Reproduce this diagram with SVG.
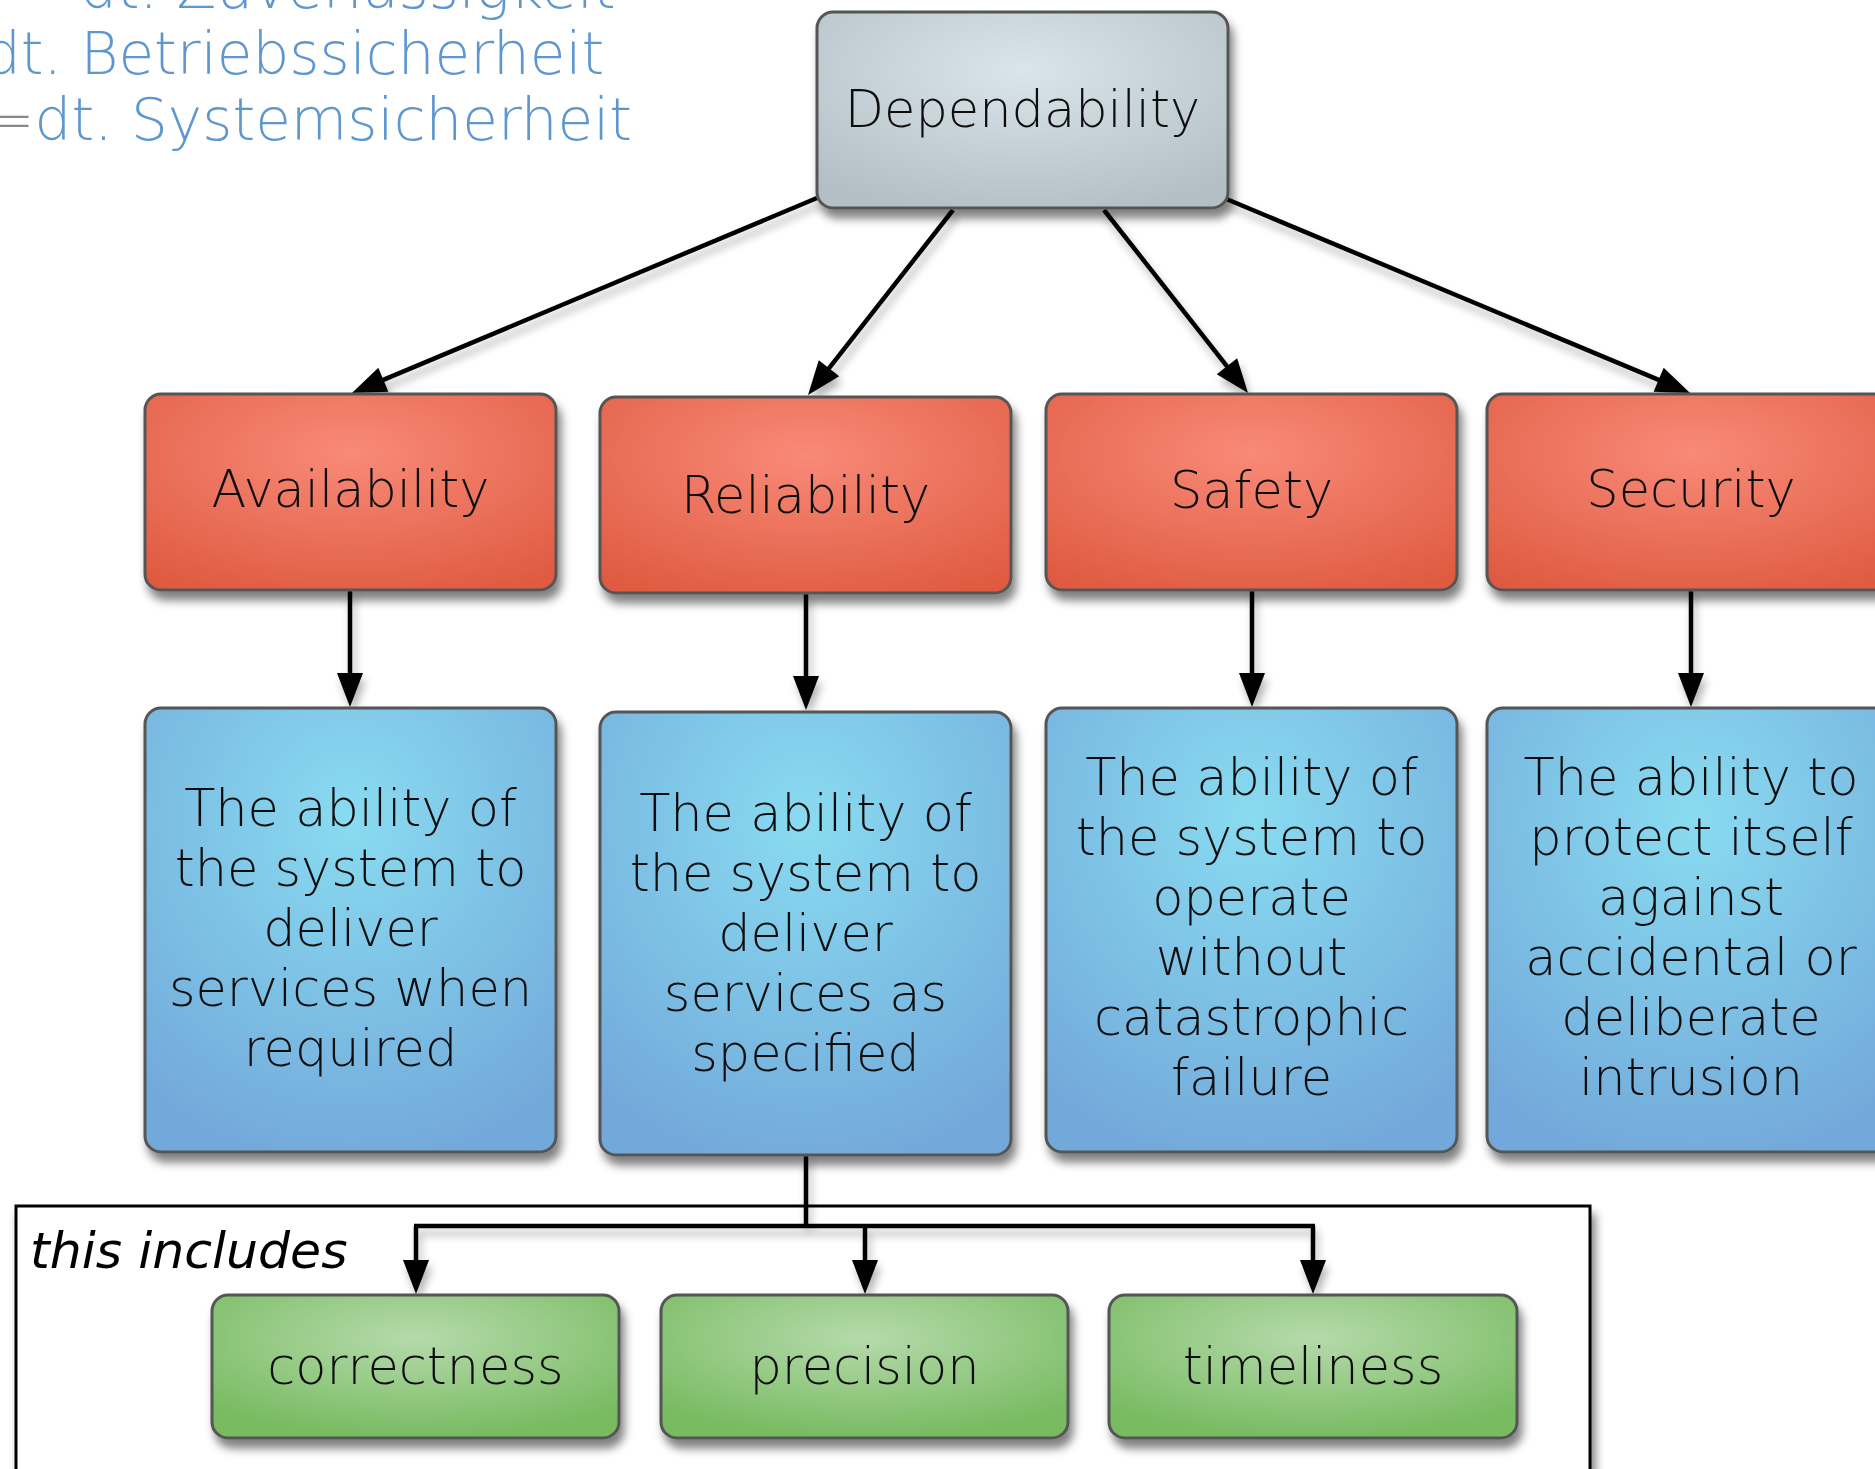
<svg xmlns="http://www.w3.org/2000/svg" width="1875" height="1469" viewBox="0 0 1875 1469">
  <defs>
    <radialGradient id="gGrey" cx="0.5" cy="0.3" r="0.75">
      <stop offset="0" stop-color="#d9e5ea"/>
      <stop offset="1" stop-color="#b2bfc4"/>
    </radialGradient>
    <radialGradient id="gRed" cx="0.5" cy="0.3" r="0.8">
      <stop offset="0" stop-color="#f88a78"/>
      <stop offset="1" stop-color="#df5a40"/>
    </radialGradient>
    <radialGradient id="gBlue" cx="0.5" cy="0.25" r="0.8">
      <stop offset="0" stop-color="#89dbf1"/>
      <stop offset="1" stop-color="#72a8da"/>
    </radialGradient>
    <radialGradient id="gGreen" cx="0.5" cy="0.3" r="0.7">
      <stop offset="0" stop-color="#b5daab"/>
      <stop offset="1" stop-color="#78bb61"/>
    </radialGradient>
    <filter id="shadow" x="-10%" y="-10%" width="130%" height="140%">
      <feGaussianBlur in="SourceAlpha" stdDeviation="5"/>
      <feOffset dx="4" dy="9" result="b"/>
      <feComponentTransfer><feFuncA type="linear" slope="0.5"/></feComponentTransfer>
      <feMerge><feMergeNode/><feMergeNode in="SourceGraphic"/></feMerge>
    </filter>
    <filter id="lineShadow" x="-10%" y="-10%" width="130%" height="140%">
      <feGaussianBlur in="SourceAlpha" stdDeviation="4"/>
      <feOffset dx="3" dy="7" result="b"/>
      <feComponentTransfer><feFuncA type="linear" slope="0.3"/></feComponentTransfer>
      <feMerge><feMergeNode/><feMergeNode in="SourceGraphic"/></feMerge>
    </filter>
    <marker id="arrow" markerUnits="userSpaceOnUse" markerWidth="36" markerHeight="26" refX="24" refY="13" orient="auto" overflow="visible">
      <path d="M0,0 L34,13 L0,26 Z" fill="#000"/>
    </marker>
  </defs>
  <style>
    .box { stroke: #555; stroke-width: 3; }
    .lbl { font-family: "DejaVu Sans", sans-serif; font-weight: 200; font-size: 51px; fill: #111; text-anchor: middle; }
    .de { font-family: "DejaVu Sans", sans-serif; font-weight: 200; font-size: 58px; fill: #5e96cf; }
    .conn { fill: none; stroke: #000; stroke-width: 4.5; }
  </style>

  <!-- German glosses, top left -->
  <g id="glosses">
    <text class="de" x="80" y="8">dt. Zuverlässigkeit</text>
    <text class="de" x="-16" y="74">dt. Betriebssicherheit</text>
    <text class="de" x="-14" y="140"><tspan fill="#888">=</tspan>dt. Systemsicherheit</text>
  </g>

  <!-- frame around the sub-attributes of reliability -->
  <g id="includes">
    <rect x="16" y="1206" width="1574" height="320" fill="#fff" stroke="#000" stroke-width="3" filter="url(#shadow)"/>
    <text x="30" y="1268" font-family="DejaVu Sans, sans-serif" font-style="oblique" font-size="50.5" fill="#000">this includes</text>
  </g>

  <!-- connectors -->
  <g id="connectors" class="conn" filter="url(#lineShadow)">
    <path d="M817,198 L361.2,389.1" marker-end="url(#arrow)"/>
    <path d="M953,210 L814.2,387.1" marker-end="url(#arrow)"/>
    <path d="M1104,210 L1241.8,385.1" marker-end="url(#arrow)"/>
    <path d="M1224,198 L1680.8,389.1" marker-end="url(#arrow)"/>
    <path d="M350,590 V697" marker-end="url(#arrow)"/>
    <path d="M806,593 V700" marker-end="url(#arrow)"/>
    <path d="M1252,590 V697" marker-end="url(#arrow)"/>
    <path d="M1691,590 V697" marker-end="url(#arrow)"/>
    <path d="M806,1155 V1226"/>
    <path d="M414,1226 H1315"/>
    <path d="M416,1226 V1284" marker-end="url(#arrow)"/>
    <path d="M865,1226 V1284" marker-end="url(#arrow)"/>
    <path d="M1313,1226 V1284" marker-end="url(#arrow)"/>
  </g>

  <!-- top node -->
  <g id="dependability" filter="url(#shadow)">
    <rect class="box" x="817" y="12" width="411" height="196" rx="16" fill="url(#gGrey)"/>
    <text class="lbl" x="1022.5" y="127">Dependability</text>
  </g>

  <!-- attribute nodes -->
  <g id="availability" filter="url(#shadow)">
    <rect class="box" x="145" y="394" width="411" height="196" rx="16" fill="url(#gRed)"/>
    <text class="lbl" x="350.5" y="507">Availability</text>
  </g>
  <g id="reliability" filter="url(#shadow)">
    <rect class="box" x="600" y="397" width="411" height="196" rx="16" fill="url(#gRed)"/>
    <text class="lbl" x="805.5" y="513">Reliability</text>
  </g>
  <g id="safety" filter="url(#shadow)">
    <rect class="box" x="1046" y="394" width="411" height="196" rx="16" fill="url(#gRed)"/>
    <text class="lbl" x="1251.5" y="508">Safety</text>
  </g>
  <g id="security" filter="url(#shadow)">
    <rect class="box" x="1487" y="394" width="411" height="196" rx="16" fill="url(#gRed)"/>
    <text class="lbl" x="1691" y="507">Security</text>
  </g>

  <!-- definition nodes -->
  <g id="availability-def" filter="url(#shadow)">
    <rect class="box" x="145" y="708" width="411" height="444" rx="16" fill="url(#gBlue)"/>
    <text class="lbl" x="350.5" y="826">The ability of</text>
    <text class="lbl" x="350.5" y="886">the system to</text>
    <text class="lbl" x="350.5" y="946">deliver</text>
    <text class="lbl" x="350.5" y="1006">services when</text>
    <text class="lbl" x="350.5" y="1066">required</text>
  </g>
  <g id="reliability-def" filter="url(#shadow)">
    <rect class="box" x="600" y="712" width="411" height="443" rx="16" fill="url(#gBlue)"/>
    <text class="lbl" x="805.5" y="831">The ability of</text>
    <text class="lbl" x="805.5" y="891">the system to</text>
    <text class="lbl" x="805.5" y="951">deliver</text>
    <text class="lbl" x="805.5" y="1011">services as</text>
    <text class="lbl" x="805.5" y="1071">specified</text>
  </g>
  <g id="safety-def" filter="url(#shadow)">
    <rect class="box" x="1046" y="708" width="411" height="444" rx="16" fill="url(#gBlue)"/>
    <text class="lbl" x="1251.5" y="795">The ability of</text>
    <text class="lbl" x="1251.5" y="855">the system to</text>
    <text class="lbl" x="1251.5" y="915">operate</text>
    <text class="lbl" x="1251.5" y="975">without</text>
    <text class="lbl" x="1251.5" y="1035">catastrophic</text>
    <text class="lbl" x="1251.5" y="1095">failure</text>
  </g>
  <g id="security-def" filter="url(#shadow)">
    <rect class="box" x="1487" y="708" width="411" height="444" rx="16" fill="url(#gBlue)"/>
    <text class="lbl" x="1691" y="795">The ability to</text>
    <text class="lbl" x="1691" y="855">protect itself</text>
    <text class="lbl" x="1691" y="915">against</text>
    <text class="lbl" x="1691" y="975">accidental or</text>
    <text class="lbl" x="1691" y="1035">deliberate</text>
    <text class="lbl" x="1691" y="1095">intrusion</text>
  </g>

  <!-- aspects of reliability -->
  <g id="correctness" filter="url(#shadow)">
    <rect class="box" x="212" y="1295" width="407" height="143" rx="16" fill="url(#gGreen)"/>
    <text class="lbl" x="415.5" y="1384">correctness</text>
  </g>
  <g id="precision" filter="url(#shadow)">
    <rect class="box" x="661" y="1295" width="407" height="143" rx="16" fill="url(#gGreen)"/>
    <text class="lbl" x="864.5" y="1384">precision</text>
  </g>
  <g id="timeliness" filter="url(#shadow)">
    <rect class="box" x="1109" y="1295" width="408" height="143" rx="16" fill="url(#gGreen)"/>
    <text class="lbl" x="1313" y="1384">timeliness</text>
  </g>
</svg>
